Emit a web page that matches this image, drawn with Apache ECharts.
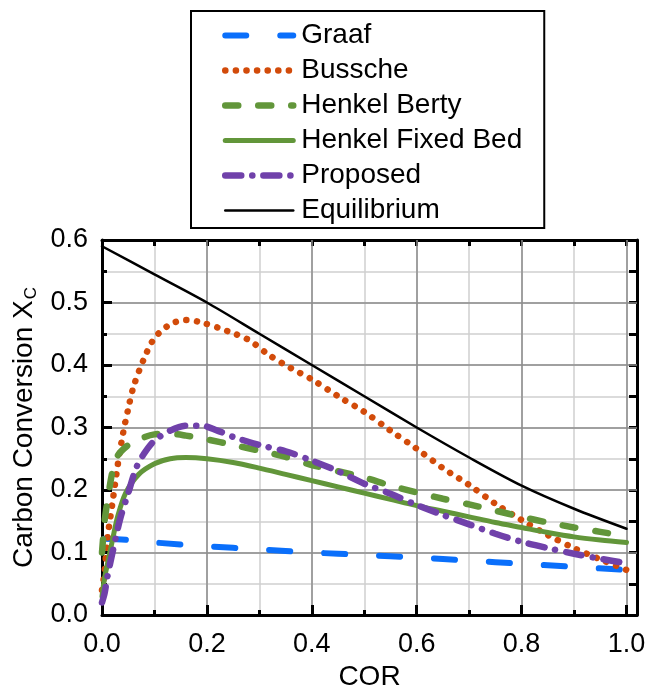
<!DOCTYPE html>
<html>
<head>
<meta charset="utf-8">
<script src="https://cdn.jsdelivr.net/npm/echarts@6/dist/echarts.min.js"></script>
<style>
  html, body { margin: 0; padding: 0; background: #fff; }
  #chart { width: 648px; height: 686px; }
</style>
</head>
<body>
<div id="chart"></div>
<script>
// [COR, X_C] pairs
const graaf = [[0.005,0.122],[0.05,0.12],[0.1,0.116],[0.2,0.11],[0.3,0.105],[0.4,0.1],[0.5,0.096],[0.6,0.092],[0.7,0.087],[0.8,0.082],[0.9,0.077],[1.0,0.072]];
const bussche = [[0,0.04],[0.005,0.07],[0.01,0.12],[0.02,0.18],[0.03,0.24],[0.04,0.29],[0.05,0.33],[0.06,0.365],[0.08,0.41],[0.1,0.443],[0.13,0.465],[0.16,0.472],[0.19,0.468],[0.24,0.454],[0.28,0.44],[0.32,0.415],[0.36,0.395],[0.4,0.377],[0.45,0.35],[0.5,0.325],[0.55,0.295],[0.6,0.266],[0.65,0.235],[0.7,0.208],[0.75,0.178],[0.8,0.152],[0.85,0.128],[0.9,0.107],[0.95,0.089],[1.0,0.072]];
const henkelBerty = [[0,0.1],[0.005,0.15],[0.01,0.18],[0.02,0.23],[0.03,0.255],[0.05,0.272],[0.07,0.281],[0.1,0.289],[0.13,0.29],[0.16,0.287],[0.2,0.281],[0.25,0.272],[0.3,0.263],[0.35,0.253],[0.4,0.24],[0.45,0.23],[0.5,0.22],[0.55,0.207],[0.6,0.196],[0.65,0.186],[0.7,0.177],[0.75,0.167],[0.8,0.157],[0.85,0.148],[0.9,0.14],[0.95,0.133],[1.0,0.126]];
const henkelFixed = [[0,0.03],[0.005,0.06],[0.01,0.08],[0.02,0.12],[0.03,0.158],[0.045,0.195],[0.07,0.225],[0.1,0.242],[0.13,0.25],[0.16,0.252],[0.2,0.25],[0.25,0.244],[0.3,0.235],[0.35,0.225],[0.4,0.215],[0.45,0.205],[0.5,0.195],[0.55,0.185],[0.6,0.175],[0.65,0.166],[0.7,0.157],[0.75,0.148],[0.8,0.14],[0.85,0.132],[0.9,0.125],[0.95,0.12],[1.0,0.116]];
const proposed = [[0,0.02],[0.005,0.035],[0.01,0.06],[0.02,0.1],[0.035,0.155],[0.05,0.195],[0.065,0.235],[0.08,0.258],[0.1,0.279],[0.13,0.295],[0.16,0.303],[0.19,0.303],[0.22,0.295],[0.25,0.285],[0.3,0.272],[0.35,0.262],[0.4,0.247],[0.45,0.23],[0.5,0.21],[0.55,0.194],[0.6,0.176],[0.65,0.16],[0.7,0.145],[0.75,0.13],[0.8,0.117],[0.85,0.107],[0.9,0.098],[0.95,0.09],[1.0,0.083]];
const equilibrium = [[0,0.59],[0.1,0.545],[0.2,0.5],[0.3,0.45],[0.4,0.4],[0.5,0.35],[0.6,0.3],[0.7,0.252],[0.8,0.207],[0.9,0.17],[1.0,0.138]];

const FONT = 'Liberation Sans, Arial, sans-serif';
const DARK = '#8c8c8c';
const LIGHT = '#cfcfcf';

const styles = {
  'Graaf': { color: '#0a6ffb', width: 6, type: [21, 34] },
  'Bussche': { color: '#d24b0a', width: 6.5, type: [0.1, 10.5] },
  'Henkel Berty': { color: '#62963a', width: 6.5, type: [13, 20] },
  'Henkel Fixed Bed': { color: '#62963a', width: 5, type: 'solid' },
  'Proposed': { color: '#7041aa', width: 6.5, type: [16, 11, 0.1, 11] },
  'Equilibrium': { color: '#000', width: 2.5, type: 'solid' }
};

function lineSeries(name, data) {
  const s = styles[name];
  return {
    name: name,
    type: 'line',
    data: data,
    showSymbol: false,
    symbol: 'none',
    smooth: 0.3,
    z: 3,
    lineStyle: { color: s.color, width: s.width, type: s.type, cap: 'round' },
    itemStyle: { color: s.color }
  };
}

const legendNames = ['Graaf', 'Bussche', 'Henkel Berty', 'Henkel Fixed Bed', 'Proposed', 'Equilibrium'];

const chart = echarts.init(document.getElementById('chart'));
chart.setOption({
  animation: false,
  backgroundColor: '#fff',
  grid: { left: 102, right: 11, top: 240, bottom: 71, containLabel: false, outerBoundsMode: 'none' },
  legend: {
    orient: 'vertical',
    left: 191,
    top: 11,
    padding: [7, 22, 0, 31],
    itemGap: 0,
    itemWidth: 68,
    itemHeight: 14,
    borderColor: '#000',
    borderWidth: 2,
    itemStyle: { opacity: 0 },
    textStyle: { fontSize: 28, fontFamily: FONT, color: '#000', lineHeight: 35, padding: [0, 0, 0, 3] },
    data: legendNames.map(n => ({
      name: n,
      itemStyle: { opacity: 0 },
      lineStyle: { color: styles[n].color, width: styles[n].width, type: styles[n].type, cap: 'round' }
    }))
  },
  xAxis: [
    {
      type: 'value', position: 'bottom', min: 0, max: 1.02, interval: 0.2, z: 1,
      name: 'COR', nameLocation: 'middle', nameGap: 47,
      nameTextStyle: { fontSize: 28, fontFamily: FONT, color: '#000' },
      axisLine: { show: true, onZero: false, lineStyle: { color: '#000', width: 3 } },
      axisTick: { show: true, inside: true, length: 10, lineStyle: { color: '#000', width: 3 } },
      minorTick: { show: true, splitNumber: 2, length: 5, lineStyle: { color: '#000', width: 3 } },
      axisLabel: { fontSize: 27, fontFamily: FONT, color: '#000', margin: 16, showMaxLabel: false, formatter: v => v.toFixed(1) },
      splitLine: { show: true, showMinLine: false, showMaxLine: false, lineStyle: { color: DARK, width: 1.5 } }
    },
    {
      type: 'value', position: 'top', min: 0, max: 1.02, interval: 0.1, z: 0,
      axisLine: { show: true, onZero: false, lineStyle: { color: '#000', width: 3 } },
      axisTick: { show: true, inside: true, length: 6, lineStyle: { color: '#000', width: 3 } },
      axisLabel: { show: false },
      splitLine: { show: true, showMinLine: false, showMaxLine: false, lineStyle: { color: LIGHT, width: 1.5 } }
    }
  ],
  yAxis: [
    {
      type: 'value', position: 'left', min: 0, max: 0.6, interval: 0.1, z: 1,
      name: 'Carbon Conversion X{sub|C}', nameLocation: 'middle', nameGap: 61,
      nameTextStyle: {
        fontSize: 28, fontFamily: FONT, color: '#000',
        rich: { sub: { fontSize: 17, fontFamily: FONT, color: '#000', verticalAlign: 'bottom', padding: [13, 0, 0, 1] } }
      },
      axisLine: { show: true, onZero: false, lineStyle: { color: '#000', width: 3 } },
      axisTick: { show: true, inside: true, length: 10, lineStyle: { color: '#000', width: 3 } },
      minorTick: { show: true, splitNumber: 2, length: 5, lineStyle: { color: '#000', width: 3 } },
      axisLabel: { fontSize: 27, fontFamily: FONT, color: '#000', margin: 14, formatter: v => v.toFixed(1) },
      splitLine: { show: true, showMinLine: false, showMaxLine: false, lineStyle: { color: DARK, width: 1.5 } }
    },
    {
      type: 'value', position: 'right', min: 0, max: 0.6, interval: 0.05, z: 0,
      axisLine: { show: true, onZero: false, lineStyle: { color: '#000', width: 3 } },
      axisTick: { show: true, inside: true, length: 8, lineStyle: { color: '#000', width: 3 } },
      axisLabel: { show: false },
      splitLine: { show: true, showMinLine: false, showMaxLine: false, lineStyle: { color: LIGHT, width: 1.5 } }
    }
  ],
  series: [
    lineSeries('Graaf', graaf),
    lineSeries('Bussche', bussche),
    lineSeries('Henkel Berty', henkelBerty),
    lineSeries('Henkel Fixed Bed', henkelFixed),
    lineSeries('Proposed', proposed),
    lineSeries('Equilibrium', equilibrium)
  ]
});
</script>
</body>
</html>
